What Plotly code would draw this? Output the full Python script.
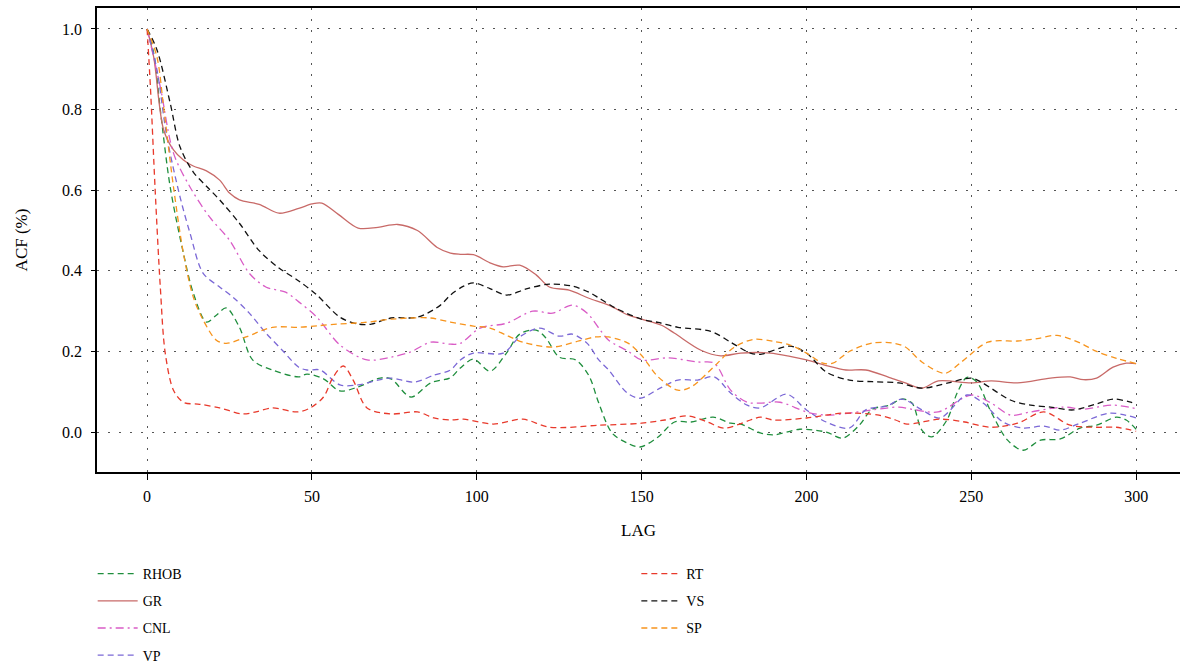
import plotly.graph_objects as go

# ---------------- data ----------------
rhob_lag = [0, 2, 4, 7, 11, 14, 18, 21, 24, 28, 32, 38, 46, 48.5, 53.5, 58.5, 64, 70.7, 74, 80, 86, 92, 95, 99,
            104, 109, 113, 118, 121, 125, 130, 134, 137, 141, 145.6, 149.5, 155, 160, 165, 171.7, 177, 180, 186,
            190, 198, 206, 211, 216, 220, 225, 229, 232, 235, 238, 242.6, 245.7, 248.7, 251.7, 255.7, 261, 265.7,
            271, 277, 283, 288, 294, 297, 300]
rhob_acf = [1.0, 0.94, 0.80, 0.608, 0.444, 0.345, 0.273, 0.29, 0.308, 0.26, 0.179, 0.154, 0.137, 0.144, 0.132,
            0.102, 0.112, 0.134, 0.132, 0.087, 0.122, 0.135, 0.159, 0.181, 0.151, 0.196, 0.243, 0.253, 0.233,
            0.186, 0.179, 0.14, 0.072, -0.002, -0.027, -0.037, -0.012, 0.025, 0.025, 0.037, 0.022, 0.02, -0.002,
            -0.007, 0.007, 0.0, -0.015, 0.017, 0.057, 0.066, 0.082, 0.072, 0.005, -0.012, 0.03, 0.097, 0.136,
            0.124, 0.055, -0.02, -0.045, -0.02, -0.017, 0.01, 0.017, 0.037, 0.03, 0.007]

gr_lag = [0, 2, 5, 8, 11, 14, 18, 22, 25, 28, 34, 40, 46, 50, 53, 58, 64, 70, 76, 82, 88, 92, 95, 99, 104, 108,
          113, 118, 122, 128, 134, 140, 146, 150, 156, 160, 168, 174, 180, 189, 195, 200, 206, 212, 218, 225,
          230, 235, 240, 250, 256, 264, 274, 280, 284, 288, 293, 297, 300]
gr_acf = [1.0, 0.93, 0.75, 0.70, 0.675, 0.66, 0.648, 0.625, 0.593, 0.576, 0.565, 0.543, 0.555, 0.566, 0.568,
          0.54, 0.506, 0.508, 0.515, 0.50, 0.458, 0.444, 0.441, 0.44, 0.42, 0.41, 0.414, 0.39, 0.36, 0.352, 0.332,
          0.315, 0.29, 0.28, 0.265, 0.245, 0.203, 0.189, 0.196, 0.196, 0.188, 0.179, 0.165, 0.154, 0.154, 0.136,
          0.122, 0.109, 0.127, 0.122, 0.127, 0.122, 0.134, 0.137, 0.13, 0.134, 0.161, 0.171, 0.17]

cnl_lag = [0, 4, 8, 13, 19, 25, 31, 36, 42, 46, 51.5, 58.5, 66.7, 74, 80, 86, 92, 95, 101, 109, 117, 123, 129,
           133.5, 137, 140, 146, 150, 158, 167, 172, 177, 182, 186, 192, 200, 206, 213, 220, 228, 233, 240, 250,
           256, 262, 268, 278, 284, 293, 300]
cnl_acf = [1.0, 0.856, 0.692, 0.608, 0.533, 0.476, 0.394, 0.36, 0.347, 0.323, 0.285, 0.216, 0.179, 0.186, 0.199,
           0.223, 0.218, 0.22, 0.258, 0.27, 0.30, 0.295, 0.315, 0.295, 0.258, 0.228, 0.20, 0.179, 0.184, 0.174,
           0.171, 0.104, 0.074, 0.072, 0.074, 0.05, 0.042, 0.047, 0.055, 0.062, 0.055, 0.05, 0.092, 0.072, 0.042,
           0.05, 0.062, 0.057, 0.067, 0.058]

vp_lag = [0, 3, 6, 10, 13, 17, 22, 26, 31, 36, 41, 46, 48.5, 52.5, 58.5, 64, 70, 74, 81, 87, 92, 95, 99, 108,
          113, 119, 125, 129, 133.5, 137, 140, 145.6, 149.5, 155.6, 161, 167, 172, 177, 182, 186, 194, 200, 206,
          213, 218, 224.5, 229, 235, 240.5, 248.7, 253.6, 259.6, 265.7, 272, 277, 283, 292, 300]
vp_acf = [1.0, 0.898, 0.732, 0.583, 0.494, 0.394, 0.36, 0.335, 0.295, 0.246, 0.203, 0.161, 0.154, 0.154, 0.117,
          0.117, 0.129, 0.134, 0.124, 0.141, 0.154, 0.179, 0.196, 0.196, 0.236, 0.258, 0.238, 0.243, 0.22, 0.179,
          0.154, 0.097, 0.084, 0.109, 0.129, 0.129, 0.137, 0.097, 0.067, 0.06, 0.094, 0.055, 0.025, 0.01, 0.055,
          0.065, 0.082, 0.055, 0.035, 0.092, 0.072, 0.025, 0.01, 0.015, 0.005, 0.022, 0.047, 0.035]

rt_lag = [0, 1, 2.4, 4, 5.5, 8, 11, 16, 22, 29, 33, 38, 45.5, 49.5, 53.5, 56.4, 59.5, 62.5, 66.7, 74, 82, 87, 92,
          96, 105, 114, 122, 137, 150, 157, 164, 170, 175, 183, 186, 190, 200, 211, 222, 227, 230.5, 240.5, 248,
          255.7, 264, 272, 280, 288, 294, 300]
rt_acf = [1.0, 0.856, 0.608, 0.36, 0.196, 0.104, 0.074, 0.069, 0.06, 0.045, 0.05, 0.06, 0.05, 0.06, 0.087, 0.136,
          0.164, 0.129, 0.06, 0.045, 0.05, 0.035, 0.03, 0.032, 0.02, 0.032, 0.012, 0.017, 0.022, 0.03, 0.04, 0.025,
          0.01, 0.03, 0.037, 0.03, 0.035, 0.047, 0.042, 0.03, 0.02, 0.032, 0.025, 0.012, 0.022, 0.05, 0.017, 0.012,
          0.012, 0.002]

vs_lag = [0, 3, 7, 10, 14, 18, 22, 28, 34, 40, 46, 51.5, 58.5, 64, 68, 74, 82, 89, 92, 96, 99, 104, 109, 115, 122,
          129, 134, 137, 142, 150, 155, 161, 171, 177, 183, 186, 195, 200, 206, 213, 220, 228, 235, 243, 250, 253,
          262, 268, 274, 281, 288, 293, 298, 300]
vs_acf = [1.0, 0.948, 0.816, 0.707, 0.645, 0.61, 0.576, 0.518, 0.45, 0.407, 0.375, 0.34, 0.285, 0.268, 0.268,
          0.283, 0.285, 0.315, 0.34, 0.362, 0.37, 0.356, 0.34, 0.355, 0.367, 0.362, 0.347, 0.333, 0.308, 0.28,
          0.272, 0.26, 0.25, 0.223, 0.196, 0.193, 0.213, 0.196, 0.149, 0.129, 0.125, 0.122, 0.109, 0.122, 0.134,
          0.124, 0.079, 0.067, 0.062, 0.055, 0.07, 0.082, 0.075, 0.07]

sp_lag = [0, 3, 5, 8, 11, 14, 17, 21, 24, 30, 38, 46, 52, 58, 66, 74, 80, 86, 92, 99, 104, 109, 114, 123, 131, 136,
          140, 146, 150, 155, 161, 165, 173, 178, 184, 190, 195, 200, 205, 208, 213, 220, 226, 230, 235, 242, 247,
          255, 264, 270, 276, 283, 288, 294, 300]
sp_acf = [1.0, 0.93, 0.806, 0.608, 0.444, 0.335, 0.278, 0.228, 0.22, 0.236, 0.26, 0.26, 0.264, 0.268, 0.272, 0.28,
          0.283, 0.283, 0.273, 0.263, 0.258, 0.24, 0.223, 0.211, 0.226, 0.236, 0.236, 0.22, 0.19, 0.137, 0.104,
          0.112, 0.171, 0.21, 0.23, 0.225, 0.216, 0.196, 0.171, 0.171, 0.20, 0.221, 0.221, 0.211, 0.174, 0.146,
          0.174, 0.223, 0.226, 0.232, 0.24, 0.221, 0.20, 0.183, 0.17]

x_ticks = [0, 50, 100, 150, 200, 250, 300]
y_ticks = [0.0, 0.2, 0.4, 0.6, 0.8, 1.0]

# ---------------- figure ----------------
FONT = "Liberation Serif"
series = [
    ("RHOB", rhob_lag, rhob_acf, "#1f8e3d", "6px,4px", "legend"),
    ("GR", gr_lag, gr_acf, "#c86a68", "solid", "legend"),
    ("CNL", cnl_lag, cnl_acf, "#d95cc6", "8px,4px,2px,4px", "legend"),
    ("VP", vp_lag, vp_acf, "#7b68d6", "6px,4px", "legend"),
    ("RT", rt_lag, rt_acf, "#e8392b", "6px,4px", "legend2"),
    ("VS", vs_lag, vs_acf, "#111111", "6px,4px", "legend2"),
    ("SP", sp_lag, sp_acf, "#f7941d", "6px,4px", "legend2"),
]

fig = go.Figure()
for name, xs, ys, col, dash, leg in series:
    fig.add_trace(go.Scatter(
        x=xs, y=ys, name=name, mode="lines", legend=leg, legendgroup=name,
        line=dict(color=col, width=1.3, dash=dash, shape="spline", smoothing=0.9),
    ))

legend_common = dict(
    orientation="v", xanchor="left", yanchor="top", yref="container", y=0.1584,
    font=dict(family=FONT, size=14), bgcolor="rgba(0,0,0,0)",
    tracegroupgap=6, itemwidth=40,
)
fig.update_layout(
    width=1180, height=663,
    margin=dict(l=97, r=0, t=8, b=191),
    paper_bgcolor="white", plot_bgcolor="white",
    font=dict(family=FONT, size=15, color="black"),
    showlegend=True,
    legend=dict(x=-0.004, **legend_common),
    legend2=dict(x=0.498, **legend_common),
)
fig.update_xaxes(
    range=[-15.2, 313.3], tickvals=x_ticks, ticktext=[str(v) for v in x_ticks],
    showgrid=True, gridcolor="#555555", griddash="2px,9px", gridwidth=1,
    showline=True, linecolor="black", linewidth=1.5, mirror=True,
    ticks="outside", ticklen=6, tickcolor="black", tickwidth=1.3,
    zeroline=False, ticklabelstandoff=3,
    title=dict(text="LAG", font=dict(family=FONT, size=17), standoff=20),
    tickfont=dict(family=FONT, size=16),
)
fig.update_yaxes(
    range=[-0.099, 1.052], tickvals=y_ticks, ticktext=[f"{v:.1f}" for v in y_ticks],
    showgrid=True, gridcolor="#555555", griddash="2px,9px", gridwidth=1,
    showline=True, linecolor="black", linewidth=1.5, mirror=False,
    ticks="outside", ticklen=4, tickcolor="black",
    zeroline=False, ticklabelstandoff=6,
    title=dict(text="ACF (%)", font=dict(family=FONT, size=17), standoff=30),
    tickfont=dict(family=FONT, size=16),
)

fig.write_html("out.html")
